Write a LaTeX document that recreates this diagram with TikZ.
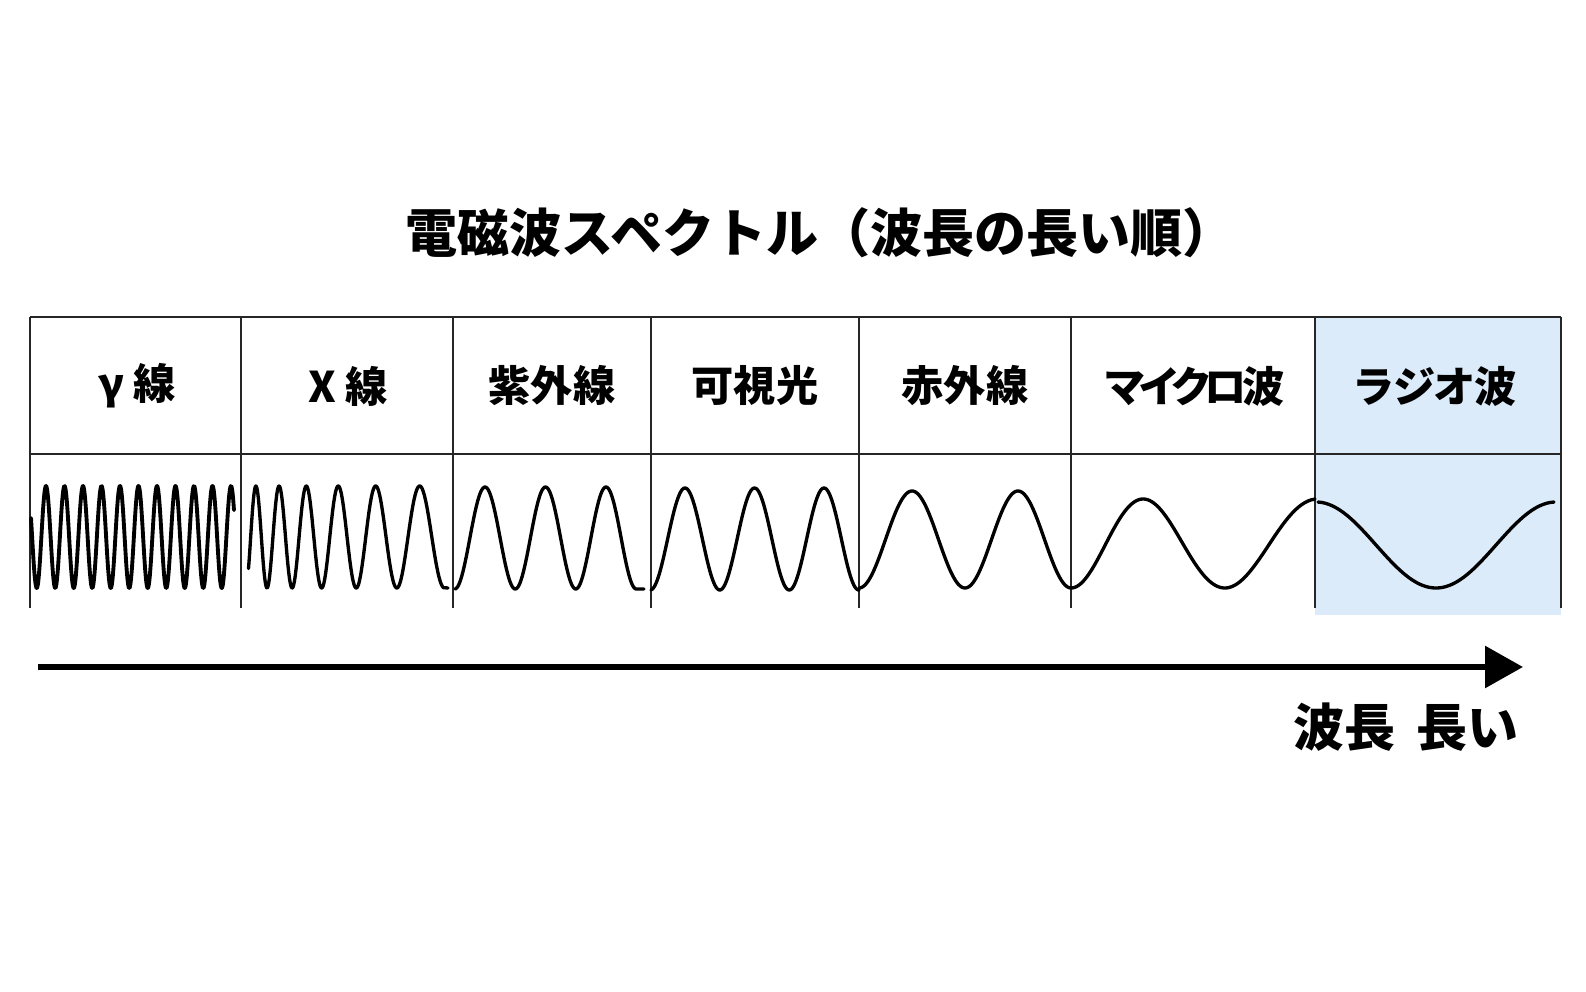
\documentclass[tikz,border=0pt]{standalone}
\usepackage{fontspec}
\newfontfamily\jpfont{Noto Sans CJK JP}
\newfontfamily\jppropfont{Noto Sans CJK JP}[RawFeature=+palt]
\usepackage{xcolor}
\usetikzlibrary{arrows.meta}
\definecolor{radioblue}{RGB}{220,235,250}

\begin{document}
\begin{tikzpicture}[x=0.01cm, y=-0.01cm,
    rule/.style={line width=0.6pt, black!85},
    wave/.style={line width=0.95pt, line join=round, line cap=round},
    bandname/.style={font=\jppropfont\bfseries\fontsize{12}{14}\selectfont, inner sep=0pt}]
  \useasboundingbox (0,0) rectangle (1586,992);

  \fill[radioblue] (1315,317) rectangle (1561,615);

  \node[font=\jpfont\bfseries\fontsize{14.8}{16}\selectfont] (title) at (820,233)
    {電磁波スペクトル（波長の長い順）};

  % table grid
  \draw[rule, line width=0.8pt] (30,317) -- (1561,317);
  \draw[rule, line width=0.8pt] (30,454) -- (1561,454);
  \foreach \xx in {30,241,453,651,859,1071,1315,1561}
    \draw[rule] (\xx,317) -- (\xx,608);

  \foreach \band/\xc [count=\i] in {γ 線/137, X 線/348, 紫外線/552, 可視光/755,
      赤外線/965, {\addfontfeature{LetterSpace=-12}マイクロ波}/1195, ラジオ波/1436}
    \node[bandname] (band\i) at (\xc,386) {\band};

  % waves, one per band
  \draw[wave, line width=1.1pt] plot[domain=31:234, samples=500]
    (\x, {537-51*cos((\x-46)/18.5*360)});
  \draw[wave] plot[domain=7.5:202.5, samples=400]
    ({241+\x}, {537-51*cos(360*(6.25*ln(1+0.00842*\x)-0.739))}) -- (448,588);
  \draw[wave] plot[domain=455:636.25, samples=200]
    (\x, {538-51*cos((\x-485)/60.5*360)}) -- (644,589);
  \draw[wave] plot[domain=651:859, samples=200]
    (\x, {539-51*cos((\x-685)/69.5*360)});
  \draw[wave] plot[domain=859:1071, samples=150]
    (\x, {539.5+48.5*cos((\x-859)/106*360)});
  \draw[wave] plot[domain=0:244, samples=150]
    ({1071+\x}, {543.5+44.5*cos(1440*ln(1+0.001852*\x))});
  \draw[wave] plot[domain=1318:1554, samples=150]
    (\x, {545-43*cos((\x-1316)/240*360)});

  % wavelength axis
  \coordinate (axisstart) at (38,667);
  \coordinate (axisend) at (1523,667);
  \draw[line width=1.7pt, -{Triangle[length=0.38cm, width=0.41cm]}] (axisstart) -- (axisend);
  \node[font=\jpfont\bfseries\fontsize{14.5}{16}\selectfont] (longlabel) at (1406,727)
    {波長\hspace{0.4em}長い};
\end{tikzpicture}
\end{document}
